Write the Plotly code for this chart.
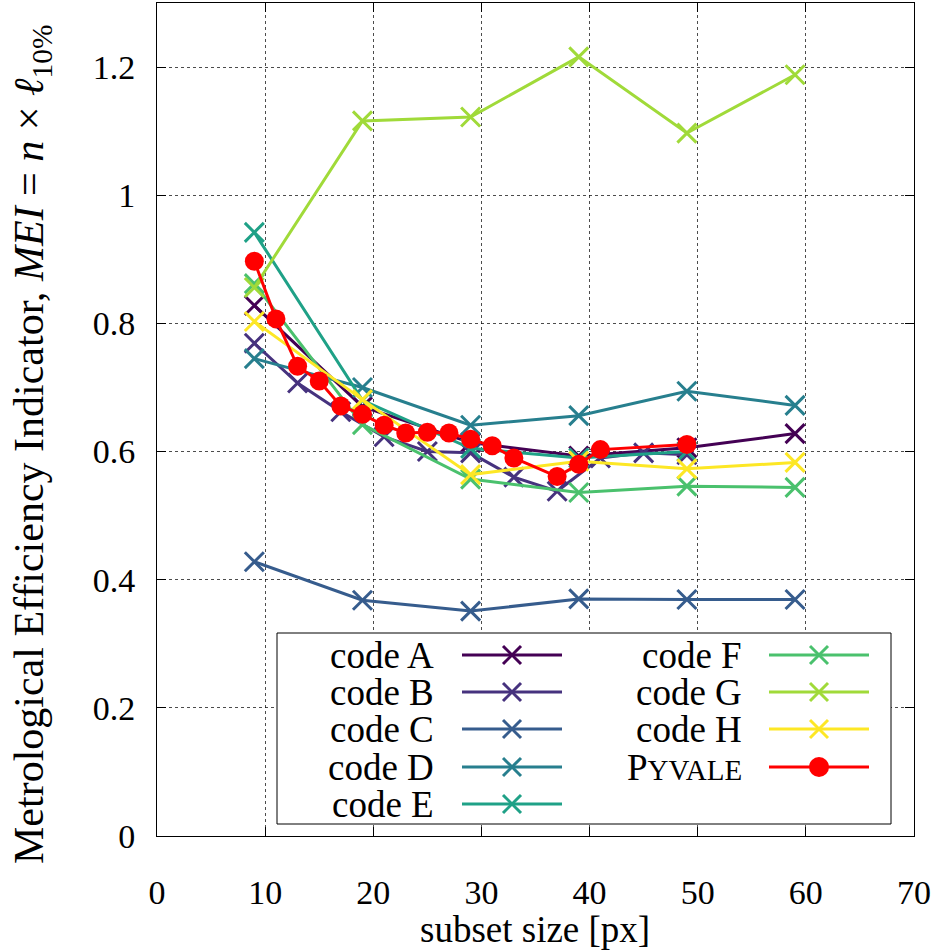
import plotly.graph_objects as go

# Subset sizes evaluated by most codes
subset_sizes = [9, 19, 29, 39, 49, 59]

code_a = [0.828, 0.670, 0.614, 0.593, 0.606, 0.628]
code_b_sizes = [9, 13, 17, 21, 25, 29, 33, 37, 41, 45, 49]
code_b = [0.769, 0.707, 0.662, 0.623, 0.600, 0.598, 0.560, 0.538, 0.590, 0.598, 0.595]
code_c = [0.428, 0.368, 0.351, 0.370, 0.369, 0.369]
code_d = [0.745, 0.700, 0.641, 0.656, 0.694, 0.672]
code_e_sizes = [9, 19, 29, 39, 49]
code_e = [0.942, 0.680, 0.605, 0.590, 0.600]
code_f = [0.862, 0.642, 0.557, 0.536, 0.546, 0.544]
code_g = [0.856, 1.116, 1.122, 1.216, 1.097, 1.188]
code_h = [0.803, 0.681, 0.564, 0.585, 0.573, 0.583]

pyvale_sizes = [9, 11, 13, 15, 17, 19, 21, 23, 25, 27, 29, 31, 33, 37, 39, 41, 49]
pyvale = [0.897, 0.807, 0.733, 0.710, 0.671, 0.658, 0.641, 0.629, 0.630, 0.629,
          0.619, 0.609, 0.590, 0.561, 0.580, 0.603, 0.611]

series_names = ["code A", "code B", "code C", "code D", "code E",
                "code F", "code G", "code H"]
series_x = [subset_sizes, code_b_sizes, subset_sizes, subset_sizes, code_e_sizes,
            subset_sizes, subset_sizes, subset_sizes]
series_y = [code_a, code_b, code_c, code_d, code_e, code_f, code_g, code_h]
colors = ["#440154", "#46327e", "#365c8d", "#277f8e", "#1fa187",
          "#4ac16d", "#a0da39", "#fde725"]
pyvale_color = "#ff0000"

FONT = "Liberation Serif"
W, H = 934, 952
ML, MR, MT, MB = 157, 20, 3, 116
PW, PH = W - ML - MR, H - MT - MB

fig = go.Figure()
for name, xs, ys, c in zip(series_names, series_x, series_y, colors):
    fig.add_trace(go.Scatter(
        x=xs, y=ys, name=name, mode="lines+markers",
        line=dict(color=c, width=3),
        marker=dict(symbol="x-thin", size=19, line=dict(color=c, width=3)),
        showlegend=False))
fig.add_trace(go.Scatter(
    x=pyvale_sizes, y=pyvale, name="Pyvale", mode="lines+markers",
    line=dict(color=pyvale_color, width=3),
    marker=dict(symbol="circle", size=19, color=pyvale_color),
    showlegend=False))


def px(x, y):
    """Convert page pixels to paper coordinates."""
    return (x - ML) / PW, (H - MB - y) / PH


shapes = []
annotations = []

# Legend frame
x0, y0 = px(277, 633)
x1, y1 = px(891, 824)
shapes.append(dict(type="rect", xref="paper", yref="paper", x0=x0, y0=y1, x1=x1, y1=y0,
                   line=dict(color="black", width=1), fillcolor="white", layer="above"))

legend_names = series_names + ["P<span style='font-size:29px'>YVALE</span>"]
legend_colors = colors + [pyvale_color]
row_y = [655, 692, 729, 767, 804]
cols = [dict(text_x=436, l0=462, l1=562, m=512), dict(text_x=744, l0=769, l1=869, m=819)]
for i, (label, c) in enumerate(zip(legend_names, legend_colors)):
    col = cols[0] if i < 5 else cols[1]
    yy = row_y[i if i < 5 else i - 5]
    tx, ty = px(col["text_x"], yy)
    annotations.append(dict(text=label, x=tx, y=ty, xref="paper", yref="paper",
                            xanchor="right", yanchor="middle", showarrow=False,
                            font=dict(family=FONT, size=37, color="black")))
    a0, ay = px(col["l0"], yy)
    a1, _ = px(col["l1"], yy)
    shapes.append(dict(type="line", xref="paper", yref="paper", x0=a0, x1=a1, y0=ay, y1=ay,
                       line=dict(color=c, width=3), layer="above"))
    mx = col["m"]
    if i < 8:
        for dy in (-1, 1):
            p0x, p0y = px(mx - 9, yy - 9 * dy)
            p1x, p1y = px(mx + 9, yy + 9 * dy)
            shapes.append(dict(type="line", xref="paper", yref="paper",
                               x0=p0x, y0=p0y, x1=p1x, y1=p1y,
                               line=dict(color=c, width=3), layer="above"))
    else:
        c0x, c0y = px(mx - 10, yy - 10)
        c1x, c1y = px(mx + 10, yy + 10)
        shapes.append(dict(type="circle", xref="paper", yref="paper",
                           x0=c0x, y0=c1y, x1=c1x, y1=c0y,
                           fillcolor=c, line=dict(color=c, width=0), layer="above"))

# Axis titles, placed as annotations
tx, ty = px(32, 445)
annotations.append(dict(
    text="Metrological Efficiency Indicator, <i>MEI</i> = <i>n</i> × <i>ℓ</i><sub>10%</sub>",
    x=tx, y=ty, xref="paper", yref="paper", textangle=-90,
    xanchor="center", yanchor="middle", showarrow=False,
    font=dict(family=FONT, size=42, color="black")))
tx, ty = px(535, 929)
annotations.append(dict(
    text="subset size [px]", x=tx, y=ty, xref="paper", yref="paper",
    xanchor="center", yanchor="middle", showarrow=False,
    font=dict(family=FONT, size=37, color="black")))

axis_common = dict(
    showline=True, linecolor="black", linewidth=1, mirror="allticks",
    ticks="inside", ticklen=9, tickcolor="black", tickwidth=1,
    showgrid=True, gridcolor="rgba(0,0,0,0.7)", gridwidth=1, griddash="dot",
    zeroline=False, tickfont=dict(family=FONT, size=34, color="black"),
)

fig.update_layout(
    width=W, height=H,
    margin=dict(l=ML, r=MR, t=MT, b=MB),
    paper_bgcolor="white", plot_bgcolor="white",
    font=dict(family=FONT, color="black"),
    shapes=shapes, annotations=annotations,
    xaxis=dict(range=[0, 70], dtick=10, ticklabelstandoff=26, **axis_common),
    yaxis=dict(range=[0, 1.3], tickvals=[0, 0.2, 0.4, 0.6, 0.8, 1, 1.2],
               ticktext=["0", "0.2", "0.4", "0.6", "0.8", "1", "1.2"], ticklabelstandoff=14,
               **axis_common),
)

fig.write_html("out.html")
